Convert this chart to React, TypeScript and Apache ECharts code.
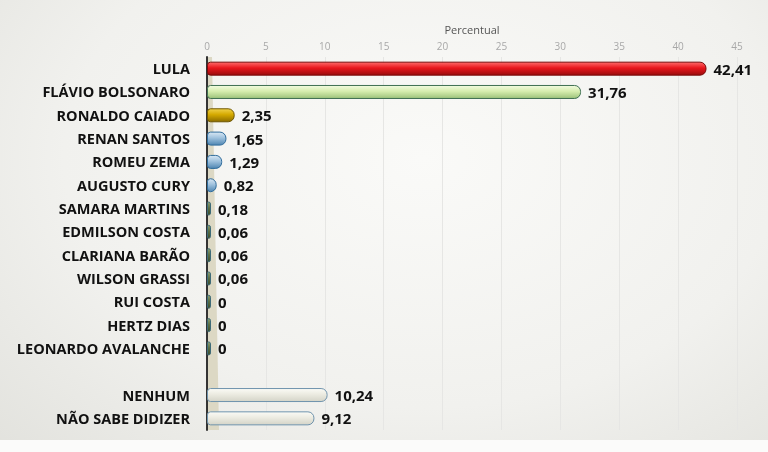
import React, { useEffect, useRef } from "react";
import * as echarts from "echarts";

const categories = [
  "LULA",
  "FLÁVIO BOLSONARO",
  "RONALDO CAIADO",
  "RENAN SANTOS",
  "ROMEU ZEMA",
  "AUGUSTO CURY",
  "SAMARA MARTINS",
  "EDMILSON COSTA",
  "CLARIANA BARÃO",
  "WILSON GRASSI",
  "RUI COSTA",
  "HERTZ DIAS",
  "LEONARDO AVALANCHE",
  "",
  "NENHUM",
  "NÃO SABE DIDIZER",
];

const values: (number | null)[] = [
  42.41, 31.76, 2.35, 1.65, 1.29, 0.82, 0.18, 0.06, 0.06, 0.06, 0, 0, 0, null, 10.24, 9.12,
];

// colour group per bar: top, middle, bottom, border
const palette: Record<string, [string, string, string, string]> = {
  red: ["#ff6a6a", "#e8161c", "#9a0c0c", "#7a0a0a"],
  green: ["#f2fbe0", "#d6edae", "#9cc27a", "#3f7052"],
  gold: ["#f0d24a", "#d4a900", "#8c6d00", "#6e5600"],
  blue: ["#d9e8f4", "#9ec1dd", "#4f86b2", "#2f6c9c"],
  olive: ["#8ea070", "#5b7047", "#3b4d2e", "#3e6b78"],
  pale: ["#fbfbf6", "#ecebe1", "#d4d4c8", "#6f93ad"],
};
const groups = [
  "red", "green", "gold", "blue", "blue", "blue", "olive", "olive", "olive", "olive",
  "olive", "olive", "olive", "pale", "pale", "pale",
];

export default function App() {
  const ref = useRef<HTMLDivElement>(null);
  useEffect(() => {
    if (!ref.current) return;
    const chart = echarts.init(ref.current, undefined, { renderer: "svg" });
    const gridLeft = 207;
    const gridTop = 57;
    const gridH = 373;
    const data = values.map((v, i) => {
      if (v === null) return { value: null };
      const p = palette[groups[i]];
      return {
        value: v,
        itemStyle: {
          color: new echarts.graphic.LinearGradient(0, 0, 0, 1, [
            { offset: 0, color: p[0] },
            { offset: 0.45, color: p[1] },
            { offset: 1, color: p[2] },
          ]),
          borderColor: p[3],
          borderWidth: 1,
          borderRadius: [3, 6, 6, 3],
        },
      };
    });
    chart.setOption({
      animation: false,
      backgroundColor: "transparent",
      grid: { left: gridLeft, top: gridTop, width: 530, height: gridH },
      graphic: [
        {
          type: "rect",
          shape: { x: 0, y: 440, width: 768, height: 12 },
          style: { fill: "#fbfbfa" },
          z: -1,
        },
        {
          type: "polygon",
          shape: {
            points: [
              [gridLeft - 1, gridTop],
              [gridLeft + 5, gridTop],
              [gridLeft + 12, gridTop + gridH],
              [gridLeft - 1, gridTop + gridH],
            ],
          },
          style: { fill: "#dcd8c4" },
          z: 0,
        },
      ],
      xAxis: {
        type: "value",
        position: "top",
        min: 0,
        max: 45,
        interval: 5,
        name: "Percentual",
        nameLocation: "middle",
        nameGap: 22,
        nameTextStyle: { color: "#555", fontSize: 11, fontFamily: "Open Sans" },
        axisLine: { show: false },
        axisTick: { show: false },
        axisLabel: { color: "#a8a8a8", fontSize: 10, fontFamily: "Open Sans", margin: 6 },
        splitLine: { show: true, lineStyle: { color: "#e6e6e4", width: 1 } },
      },
      yAxis: {
        type: "category",
        inverse: true,
        data: categories,
        axisLine: { show: true, lineStyle: { color: "#333", width: 2 } },
        axisTick: { show: false },
        axisLabel: {
          color: "#111",
          fontSize: 14.5,
          fontWeight: "bold",
          fontFamily: "Open Sans",
          margin: 17,
        },
      },
      series: [
        {
          type: "bar",
          data,
          barWidth: 14,
          barMinHeight: 4,
          z: 2,
          label: {
            show: true,
            position: "right",
            distance: 7,
            color: "#111",
            fontSize: 15,
            fontWeight: "bold",
            fontFamily: "Open Sans",
            formatter: (p: any) => String(p.value).replace(".", ","),
          },
        },
      ],
    });
    return () => chart.dispose();
  }, []);
  return (
    <div
      ref={ref}
      style={{
        position: "fixed",
        left: 0,
        top: 0,
        width: 768,
        height: 452,
        background:
          "radial-gradient(ellipse at 55% 35%, #fafaf8 0%, #f1f1ee 60%, #e2e2dd 100%)",
      }}
    />
  );
}
